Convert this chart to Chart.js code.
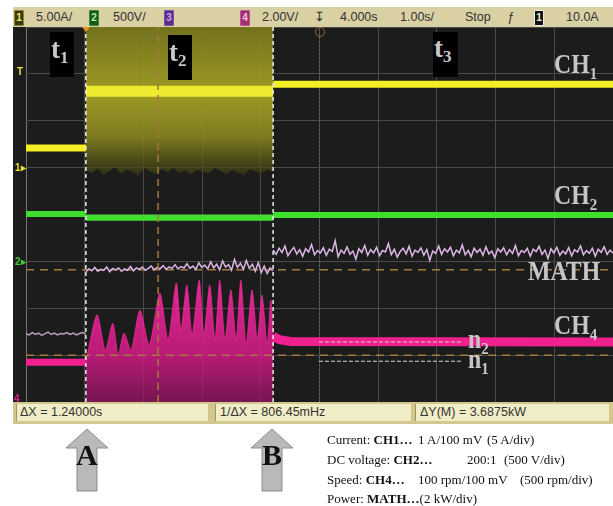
<!DOCTYPE html>
<html>
<head>
<meta charset="utf-8">
<script src="https://cdn.jsdelivr.net/npm/chart.js@4/dist/chart.umd.min.js"></script>
<style>
  html, body { margin: 0; padding: 0; background: #fff; }
  body { width: 613px; height: 506px; position: relative; overflow: hidden; font-family: "Liberation Sans", Arial, sans-serif; }
  .abs { position: absolute; white-space: pre; }
  #topbar { left: 13px; top: 7px; width: 600px; height: 20px; background: #d9d0a3; }
  #screen { left: 13px; top: 27px; width: 600px; height: 375px; background: #1c1c1c; }
  .bar-txt { top: 7px; height: 20px; line-height: 20px; font-size: 12.5px; color: #333; }
  .badge { top: 10px; width: 8px; height: 14px; line-height: 14px; font-size: 10px; font-weight: bold; text-align: center; border-radius: 1px; }
  #botbar { left: 13px; top: 402px; width: 600px; height: 22px; background: #d3c790; }
  .box { top: 404px; height: 17px; background: #f1edc6; border-left: 1px solid #a09465; }
  .box-txt { top: 404px; height: 17px; line-height: 17px; font-size: 12.5px; color: #333; }
  .lbl { font-family: "Liberation Serif", "Times New Roman", serif; font-weight: bold; color: #c6c6c6; font-size: 27px; line-height: 27px; transform: scaleX(0.88); transform-origin: left top; }
  .lbl span { font-size: 17px; line-height: 0; position: relative; top: 6px; }
  .tbox { background: #000; }
  .tt { font-family: "Liberation Serif", serif; font-weight: bold; color: #c8c8c8; font-size: 27px; line-height: 27px; }
  .tt span { font-size: 17px; line-height: 0; position: relative; top: 5px; }
  .mk { font-size: 10px; font-weight: bold; line-height: 10px; }
  .leg { font-family: "Liberation Serif", "Times New Roman", serif; font-size: 13px; line-height: 15px; color: #111; }
  .leg b { font-weight: bold; }
  .arrowtxt { font-family: "Liberation Serif", serif; font-weight: bold; font-size: 30px; line-height: 30px; color: #111; }
</style>
</head>
<body>
<div id="topbar" class="abs"></div>
<div class="abs badge" style="left:14px;background:#3b3a12;color:#f0ea60;border:1px solid #8a8530;">1</div>
<div class="abs bar-txt" style="left:36px;">5.00A/</div>
<div class="abs badge" style="left:89px;background:#155a18;color:#b8f0a0;border:1px solid #3a8a3a;">2</div>
<div class="abs bar-txt" style="left:113px;">500V/</div>
<div class="abs badge" style="left:164px;background:#5b2d86;color:#c8a8f0;border:1px solid #7a50a8;">3</div>
<div class="abs badge" style="left:240px;background:#a0306e;color:#f8c0e0;border:1px solid #c05090;">4</div>
<div class="abs bar-txt" style="left:262px;">2.00V/</div>
<div class="abs bar-txt" style="left:314px;font-family:'DejaVu Sans';font-size:13px;">↧</div>
<div class="abs bar-txt" style="left:340px;">4.000s</div>
<div class="abs bar-txt" style="left:400px;">1.00s/</div>
<div class="abs bar-txt" style="left:465px;">Stop</div>
<div class="abs bar-txt" style="left:507px;font-style:italic;">ƒ</div>
<div class="abs badge" style="left:534px;background:#111;color:#f0f0c0;border:1px solid #eee;">1</div>
<div class="abs bar-txt" style="left:566px;">10.0A</div>

<div id="screen" class="abs"><canvas id="scope"></canvas></div>

<!-- screen decorations -->
<div class="abs" style="left:82px;top:27px;width:0;height:0;border-left:4px solid transparent;border-right:4px solid transparent;border-top:5px solid #e8902a;"></div>
<div class="abs" style="left:315px;top:27px;width:8px;height:8px;border:1px solid #8a7040;border-radius:50%;"></div>
<div class="abs mk" style="left:17px;top:67px;color:#e8e030;">T</div>
<div class="abs mk" style="left:15px;top:163px;color:#e8e030;">1▸</div>
<div class="abs mk" style="left:15px;top:257px;color:#40d030;">2▸</div>
<div class="abs mk" style="left:14px;top:394px;color:#e02090;">4</div>

<div class="abs tbox" style="left:50px;top:32px;width:24px;height:45px;"></div>
<div class="abs tt" style="left:51px;top:36px;">t<span>1</span></div>
<div class="abs tbox" style="left:168px;top:35px;width:24px;height:45px;"></div>
<div class="abs tt" style="left:169px;top:39px;">t<span>2</span></div>
<div class="abs tbox" style="left:433px;top:32px;width:25px;height:45px;"></div>
<div class="abs tt" style="left:434px;top:35px;">t<span>3</span></div>

<div class="abs lbl" style="left:554px;top:51px;">CH<span>1</span></div>
<div class="abs lbl" style="left:554px;top:182px;">CH<span>2</span></div>
<div class="abs lbl" style="left:528px;top:258px;">MATH</div>
<div class="abs lbl" style="left:554px;top:312px;">CH<span>4</span></div>
<div class="abs lbl" style="left:468px;top:326px;">n<span>2</span></div>
<div class="abs lbl" style="left:468px;top:346px;">n<span>1</span></div>

<div id="botbar" class="abs"></div>
<div class="abs box" style="left:16px;width:191px;"></div>
<div class="abs box-txt" style="left:20px;">ΔX = 1.24000s</div>
<div class="abs box" style="left:215px;width:195px;"></div>
<div class="abs box-txt" style="left:220px;">1/ΔX = 806.45mHz</div>
<div class="abs box" style="left:415px;width:193px;"></div>
<div class="abs box-txt" style="left:420px;">ΔY(M) = 3.6875kW</div>

<svg class="abs" style="left:0;top:0;" width="613" height="506">
  <polygon points="87,429 108,448 97,448 97,491 77,491 77,448 66,448" fill="#b9b9b9" stroke="#8c8c8c" stroke-width="1"/>
  <polygon points="272,429 293,448 282,448 282,491 262,491 262,448 251,448" fill="#b9b9b9" stroke="#8c8c8c" stroke-width="1"/>
</svg>
<div class="abs arrowtxt" style="left:76px;top:440px;">A</div>
<div class="abs arrowtxt" style="left:262px;top:440px;">B</div>

<div class="abs leg" style="left:327px;top:432px;">Current: <b>CH1…</b></div>
<div class="abs leg" style="left:418px;top:432px;">1 A/100 mV</div>
<div class="abs leg" style="left:487px;top:432px;">(5 A/div)</div>
<div class="abs leg" style="left:327px;top:452px;">DC voltage: <b>CH2…</b></div>
<div class="abs leg" style="left:467px;top:452px;">200:1</div>
<div class="abs leg" style="left:504px;top:452px;">(500 V/div)</div>
<div class="abs leg" style="left:327px;top:472px;">Speed: <b>CH4…</b></div>
<div class="abs leg" style="left:418px;top:472px;">100 rpm/100 mV</div>
<div class="abs leg" style="left:520px;top:472px;">(500 rpm/div)</div>
<div class="abs leg" style="left:327px;top:491px;">Power: <b>MATH…</b>(2 kW/div)</div>

<script>
  const segEdges = [0, 1.02, 4.21, 10];      // left edge, cursor A, cursor B, right edge
  const ch1Level = [5.42, 6.63, 6.78];       // t1, t2 (centre of band), t3
  const ch2Level = [4.01, 3.93, 3.99];
  const ch1BandLow = [4.95, 4.88, 4.98, 4.85, 4.93, 5.02, 4.87, 4.96, 4.90, 4.84, 4.99,
                      4.92, 4.86, 4.97, 4.90, 5.00, 4.88, 4.94, 4.85, 4.96, 4.91, 4.87,
                      4.99, 4.93, 4.86, 4.95, 4.90, 4.84, 4.97, 4.92, 4.88, 4.96, 4.90];
  const mathT1 = [1.46, 1.43, 1.48, 1.44, 1.47, 1.42, 1.46, 1.49, 1.44, 1.47,
                  1.43, 1.46, 1.45, 1.48, 1.44, 1.47, 1.43, 1.46, 1.48, 1.45];
  const mathT2 = [2.78, 2.84, 2.80, 2.87, 2.79, 2.83, 2.81, 2.88, 2.78, 2.85,
                  2.82, 2.86, 2.79, 2.84, 2.81, 2.89, 2.80, 2.86, 2.83, 2.88,
                  2.81, 2.85, 2.90, 2.82, 2.87, 2.84, 2.91, 2.83, 2.88, 2.85,
                  2.93, 2.84, 2.89, 2.86, 2.95, 2.85, 2.90, 2.83, 2.97, 2.87,
                  2.92, 2.84, 2.99, 2.86, 2.94, 2.82, 3.01, 2.88, 2.93, 2.81,
                  3.04, 2.87, 2.96, 2.83, 3.02, 2.85, 2.94, 2.79, 2.97, 2.76,
                  2.90, 2.74, 2.86, 2.80];
  const mathT3 = [3.24, 3.15, 3.28, 3.19, 3.33, 3.12, 3.22, 3.30, 3.16, 3.25,
                  3.11, 3.27, 3.20, 3.36, 3.14, 3.23, 3.18, 3.29, 3.13, 3.26,
                  3.21, 3.44, 3.10, 3.24, 3.17, 3.31, 3.15, 3.22, 3.05, 3.27,
                  3.19, 3.34, 3.13, 3.25, 3.18, 3.30, 3.12, 3.23, 3.20, 3.38,
                  3.14, 3.26, 3.09, 3.21, 3.28, 3.16, 3.32, 3.11, 3.24, 3.19,
                  3.29, 3.13, 3.25, 3.02, 3.22, 3.17, 3.33, 3.15, 3.27, 3.20,
                  3.30, 3.12, 3.24, 3.18, 3.35, 3.14, 3.23, 3.10, 3.28, 3.19,
                  3.26, 3.13, 3.31, 3.16, 3.22, 3.08, 3.27, 3.20, 3.29, 3.14,
                  3.25, 3.17, 3.34, 3.12, 3.23, 3.19, 3.28, 3.11, 3.26, 3.21,
                  3.32, 3.15, 3.24, 3.06, 3.27, 3.18, 3.30, 3.13, 3.22, 3.16,
                  3.29, 3.12, 3.25, 3.20, 3.33, 3.14, 3.23, 3.17, 3.28, 3.11,
                  3.26, 3.19, 3.31, 3.15, 3.24, 3.18];
  const ch4Before = 0.85;
  const ch4BurstX = [1.02, 1.21, 1.35, 1.48, 1.57, 1.67, 1.79, 1.94, 2.10, 2.28, 2.42, 2.56, 2.64, 2.74,
                     2.83, 2.95, 3.03, 3.13, 3.22, 3.30, 3.39, 3.49, 3.58, 3.66, 3.75, 3.85, 3.94, 4.02,
                     4.11, 4.17, 4.21];
  const ch4BurstTop = [0.85, 1.86, 1.11, 1.68, 1.00, 1.47, 1.11, 1.96, 1.22, 2.32, 1.32, 2.54, 1.54, 2.49,
                       1.43, 2.60, 1.43, 2.49, 1.32, 2.60, 1.32, 2.39, 1.32, 2.60, 1.22, 2.39, 1.32, 2.28,
                       1.22, 2.17, 1.40];
  const ch4AfterX = [4.21, 4.32, 4.50, 10];
  const ch4AfterY = [1.40, 1.33, 1.29, 1.28];
  const cursorX = [1.02, 4.21];
  const refX = 2.25;
  const trigX = 5.0;
  const refY = [2.82, 1.0];
  const nLevels = [1.28, 0.87];              // n2, n1
  const nSpan = [4.99, 7.44];

  const colors = {
    ch1: '#f3ef22',
    ch2: '#3fe02c',
    math: '#dcb6e4',
    ch4: '#f0208f',
    tan: '#a57a3e',
    cursor: '#ececec',
    grid: '#4b4b4b'
  };

  // sample points spread evenly between x0 and x1
  function spread(values, x0, x1) {
    const n = values.length;
    return values.map((v, i) => ({ x: x0 + (x1 - x0) * i / (n - 1), y: v }));
  }

  // one flat level per section, broken at the cursors
  function levels(lv) {
    const pts = [];
    lv.forEach((v, i) => {
      if (i > 0) pts.push({ x: segEdges[i], y: null });
      pts.push({ x: segEdges[i], y: v }, { x: segEdges[i + 1], y: v });
    });
    return pts;
  }

  function vlines(xs) {
    const pts = [];
    xs.forEach((x, i) => {
      if (i > 0) pts.push({ x: x, y: null });
      pts.push({ x: x, y: 0 }, { x: x, y: 8 });
    });
    return pts;
  }

  function hlines(ys, x0, x1) {
    const pts = [];
    ys.forEach((y, i) => {
      if (i > 0) pts.push({ x: x0, y: null });
      pts.push({ x: x0, y: y }, { x: x1, y: y });
    });
    return pts;
  }

  function vGradient(context, y0, y1, stops) {
    const chart = context.chart;
    if (!chart.chartArea) return stops[0][1];
    const ys = chart.scales.y;
    const g = chart.ctx.createLinearGradient(0, ys.getPixelForValue(y0), 0, ys.getPixelForValue(y1));
    stops.forEach(s => g.addColorStop(s[0], s[1]));
    return g;
  }

  const ch1Pts = levels(ch1Level);
  const ch1Outer = [ch1Pts[0], ch1Pts[1], { x: segEdges[2], y: null }, ch1Pts[6], ch1Pts[7]];
  const ch1Centre = [ch1Pts[3], ch1Pts[4]];

  const datasets = [
    { label: 'cursors', data: vlines(cursorX), borderColor: colors.cursor, borderWidth: 1.5, borderDash: [4, 3], order: 0 },
    { label: 'n levels', data: hlines(nLevels, nSpan[0], nSpan[1]), borderColor: '#d8d8d8', borderWidth: 1, borderDash: [4, 2], order: 1 },
    { label: 'ref x', data: vlines([refX]), borderColor: colors.tan, borderWidth: 1.5, borderDash: [7, 5], order: 2 },
    { label: 'ref y', data: hlines(refY, 0, 10), borderColor: colors.tan, borderWidth: 1.5, borderDash: [8, 6], order: 9 },
    { label: 'trigger', data: vlines([trigX]), borderColor: '#777', borderWidth: 1, borderDash: [1, 3], order: 12 },
    { label: 'CH1', data: ch1Outer, borderColor: colors.ch1, borderWidth: 7, order: 4 },
    { label: 'CH1 centre', data: ch1Centre, borderColor: '#eeea30', borderWidth: 11, order: 5 },
    {
      label: 'CH1 band', data: spread(ch1BandLow, segEdges[1], segEdges[2]), fill: 'end', borderWidth: 0, order: 10,
      backgroundColor: c => vGradient(c, 8, 4.85, [[0, 'rgba(120,118,30,0.95)'], [0.45, 'rgba(165,162,38,0.95)'], [0.75, 'rgba(135,132,32,0.9)'], [1, 'rgba(60,60,20,0.7)']])
    },
    { label: 'CH2', data: levels(ch2Level), borderColor: colors.ch2, borderWidth: 6, order: 4 },
    { label: 'MATH t1', data: spread(mathT1, 0, segEdges[1]), borderColor: '#b8a0c0', borderWidth: 1.5, order: 6 },
    { label: 'MATH t2', data: spread(mathT2, segEdges[1], segEdges[2]), borderColor: colors.math, borderWidth: 1.5, order: 6 },
    { label: 'MATH t3', data: spread(mathT3, segEdges[2], segEdges[3]), borderColor: colors.math, borderWidth: 1.5, order: 6 },
    { label: 'CH4 t1', data: [{ x: 0, y: ch4Before }, { x: segEdges[1], y: ch4Before }], borderColor: colors.ch4, borderWidth: 7, order: 7 },
    { label: 'CH4 t3', data: ch4AfterX.map((x, i) => ({ x: x, y: ch4AfterY[i] })), borderColor: colors.ch4, borderWidth: 9, order: 7 },
    {
      label: 'CH4 t2', data: ch4BurstX.map((x, i) => ({ x: x, y: ch4BurstTop[i] })), fill: 'start', tension: 0.25,
      borderColor: 'rgba(240,40,150,0.8)', borderWidth: 1, order: 11,
      backgroundColor: c => vGradient(c, 2.6, 0, [[0, 'rgba(240,40,160,0.95)'], [0.6, 'rgba(215,28,135,0.85)'], [1, 'rgba(150,20,100,0.75)']])
    }
  ];

  new Chart(document.getElementById('scope'), {
    type: 'line',
    data: { datasets },
    options: {
      responsive: true,
      maintainAspectRatio: false,
      animation: false,
      events: [],
      layout: { padding: { left: 13, right: 0, top: 0, bottom: 0 } },
      elements: { point: { radius: 0 }, line: { tension: 0 } },
      plugins: { legend: { display: false }, tooltip: { enabled: false } },
      scales: {
        x: {
          type: 'linear', min: 0, max: 10,
          ticks: { display: false, stepSize: 1 },
          grid: { color: c => c.index === 0 ? '#777' : colors.grid, drawTicks: false },
          border: { display: false },
          afterFit: s => { s.height = 0; }
        },
        y: {
          min: 0, max: 8,
          ticks: { display: false, stepSize: 1 },
          grid: { color: colors.grid, drawTicks: false },
          border: { display: false },
          afterFit: s => { s.width = 0; }
        }
      }
    }
  });
</script>
</body>
</html>
